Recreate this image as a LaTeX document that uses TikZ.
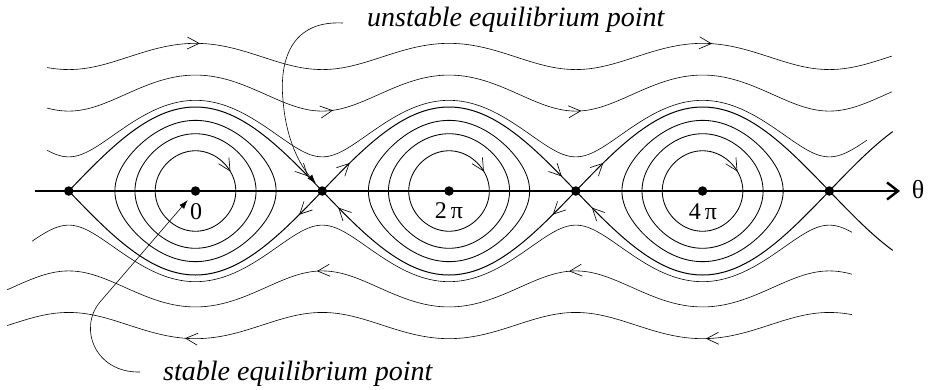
\documentclass[tikz,border=0pt]{standalone}
\usepackage{fontspec}
\setmainfont{Liberation Serif}
\usetikzlibrary{arrows.meta}
\def\XO{195.5}\def\SX{40.35}\def\YO{191}\def\SY{42}
\def\Ea{1.33}\def\Eb{2.81}\def\Ec{5.18}
\tikzset{
  wave/.style={line width=0.6pt},
  orbit/.style={line width=0.85pt},
  sep/.style={line width=1pt},
  axisline/.style={line width=1.2pt,-{Straight Barb[length=11pt,width=17pt,line width=2.4pt]}},
  flow/.style={line width=0.5pt,-{Straight Barb[length=12pt,width=12pt,line width=0.65pt]}},
  ann/.style={line width=0.6pt,-{Latex[length=9pt,width=6pt]}},
  dot/.style={circle,fill,inner sep=0pt,minimum size=9.5pt},
  lbl/.style={font=\fontsize{24}{26}\selectfont,inner sep=0pt},
  annlbl/.style={font=\fontsize{28}{32}\selectfont\itshape,inner sep=0pt,anchor=base west},
  declare function={
    px(\t)=\XO+\SX*\t;
    wu(\t,\E)=\YO-\SY*sqrt(2*(\E+cos(deg(\t))));
    wl(\t,\E)=\YO+\SY*sqrt(2*(\E+cos(deg(\t))));
    su(\t)=\YO-2*\SY*abs(cos(deg(\t/2)));
    sl(\t)=\YO+2*\SY*abs(cos(deg(\t/2)));
    ox(\c,\k,\p)=\XO+\SX*(\c*pi+2*rad(asin(\k*sin(\p))));
    oy(\k,\p)=\YO-\SY*2*\k*cos(\p);
  }
}
\newcommand\arrU[2]{\draw[flow] ({px(#2-0.02)},{wu(#2-0.02,#1)}) -- ({px(#2)},{wu(#2,#1)});}
\newcommand\arrL[2]{\draw[flow] ({px(#2+0.02)},{wl(#2+0.02,#1)}) -- ({px(#2)},{wl(#2,#1)});}
\newcommand\arrSU[1]{\draw[flow] ({px(#1-0.02)},{su(#1-0.02)}) -- ({px(#1)},{su(#1)});}
\newcommand\arrSL[1]{\draw[flow] ({px(#1+0.02)},{sl(#1+0.02)}) -- ({px(#1)},{sl(#1)});}
\newcommand\arrO[2]{\draw[flow] ({ox(#1,0.479,#2-2)},{oy(0.479,#2-2)}) -- ({ox(#1,0.479,#2)},{oy(0.479,#2)});}
\begin{document}
\begin{tikzpicture}[x=1pt,y=-1pt]
\useasboundingbox (0,0) rectangle (928,389);
% rotation orbits, upper
\draw[wave] plot[domain=-3.68:17.26,samples=260] ({px(\x)},{wu(\x,\Ec)});
\draw[wave] plot[domain=-3.68:17.26,samples=260] ({px(\x)},{wu(\x,\Eb)});
\draw[wave] plot[domain=-3.68:16.64,samples=260] ({px(\x)},{wu(\x,\Ea)});
% rotation orbits, lower
\draw[wave] plot[domain=-4.67:16.27,samples=260] ({px(\x)},{wl(\x,\Ec)});
\draw[wave] plot[domain=-4.67:16.27,samples=260] ({px(\x)},{wl(\x,\Eb)});
\draw[wave] plot[domain=-4.05:16.27,samples=260] ({px(\x)},{wl(\x,\Ea)});
% closed orbits
\foreach \c in {0,2,4}{
  \foreach \k in {0.479,0.682,0.841}{
    \draw[orbit] plot[domain=0:360,samples=121] ({ox(\c,\k,\x)},{oy(\k,\x)}) -- cycle;
  }
}
% separatrices
\foreach \c in {0,2,4}{
  \draw[sep] plot[domain={(\c-1)*pi}:{(\c+1)*pi},samples=81] ({px(\x)},{su(\x)});
  \draw[sep] plot[domain={(\c-1)*pi}:{(\c+1)*pi},samples=81] ({px(\x)},{sl(\x)});
}
\draw[sep] plot[domain={5*pi}:{5.5*pi},samples=21] ({px(\x)},{su(\x)});
\draw[sep] plot[domain={5*pi}:{5.5*pi},samples=21] ({px(\x)},{sl(\x)});
% axis
\coordinate (axl) at (35,191);
\coordinate (axr) at (900,191);
\draw[axisline] (axl) -- (axr);
\node[font=\fontsize{26}{28}\selectfont,inner sep=0pt] (th) at (918,190) {θ};
% equilibrium points
\node[dot] (s0) at ({px(-pi)},\YO) {};
\node[dot] (c0) at ({px(0)},\YO) {};
\node[dot] (s1) at ({px(pi)},\YO) {};
\node[dot] (c1) at ({px(2*pi)},\YO) {};
\node[dot] (s2) at ({px(3*pi)},\YO) {};
\node[dot] (c2) at ({px(4*pi)},\YO) {};
\node[dot] (s3) at ({px(5*pi)},\YO) {};
\node[lbl] (l0) at (196,212) {0};
\node[lbl] (l1) at (449,211) {2\,π};
\node[lbl] (l2) at (703,212) {4\,π};
% flow arrows
\arrU{\Ec}{0.11} \arrU{\Ec}{12.80}
\arrU{\Eb}{3.41} \arrU{\Eb}{9.56}
\arrL{\Ec}{-0.26} \arrL{\Ec}{12.65}
\arrL{\Eb}{3.01} \arrL{\Eb}{9.26}
\arrSU{2.79} \arrSU{3.82} \arrSL{2.57} \arrSL{3.54}
\arrSU{9.075} \arrSU{10.105} \arrSL{8.855} \arrSL{9.825}
\arrO{0}{61} \arrO{2}{61} \arrO{4}{61}
% annotations
\node[annlbl] (ut) at (367,26) {unstable equilibrium point};
\node[annlbl] (st) at (163,380) {stable equilibrium point};
\coordinate (ua) at (343,23);
\coordinate (sa) at (140,372);
\draw[ann,shorten >=5pt] (ua) .. controls (285,20) and (280,70) .. (283,100) .. controls (286,140) and (300,165) .. (s1);
\draw[ann,shorten >=7pt] (sa) .. controls (95,373) and (78,328) .. (100,302) -- (c0);
\end{tikzpicture}
\end{document}
